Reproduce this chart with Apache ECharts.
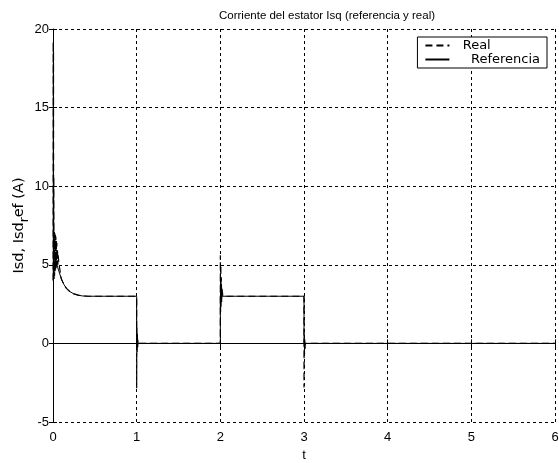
<!DOCTYPE html>
<html><head><meta charset="utf-8">
<script src="https://cdn.jsdelivr.net/npm/echarts@6/dist/echarts.min.js"></script>
<style>html,body{margin:0;padding:0;background:#fff}#c{width:559px;height:463px}</style>
</head><body><div id="c"></div>
<script>
// Time (s) and current (A)
var refT = [0, 0.04, 0.07, 0.1, 0.13, 0.16, 0.2, 0.25, 0.3, 0.35, 0.42, 1, 1, 2, 2, 3, 3, 6];
var refY = [5.3, 5.1, 4.6, 4.1, 3.75, 3.5, 3.3, 3.15, 3.07, 3.02, 3.0, 3.0, 0, 0, 3.0, 3.0, 0, 0];

var realT = [0, 0.002, 0.004, 0.006, 0.008, 0.01, 0.013, 0.016, 0.019, 0.022, 0.025, 0.028, 0.031, 0.034, 0.037, 0.04, 0.043, 0.046, 0.05, 0.054, 0.058, 0.062, 0.07, 0.1, 0.13, 0.16, 0.2, 0.25, 0.3, 0.35, 0.42,
  1.0, 1.0, 1.003, 1.006, 1.009, 1.012, 1.016, 1.02, 1.03,
  2.0, 2.0, 2.003, 2.006, 2.009, 2.012, 2.016, 2.02, 2.03,
  3.0, 3.0, 3.003, 3.006, 3.009, 3.012, 3.016, 3.02, 3.03, 6];
var realY = [4.0, 19.2, 4.2, 18.6, 4.1, 10.6, 4.1, 7.1, 4.3, 7.0, 4.5, 6.9, 4.7, 6.8, 4.8, 6.6, 4.9, 6.4, 5.0, 6.0, 5.0, 5.6, 5.1, 4.1, 3.75, 3.5, 3.3, 3.15, 3.07, 3.02, 3.0,
  3.0, -2.85, 1.0, -0.6, 0.6, -0.3, 0.2, 0, 0,
  0, 5.6, 2.0, 5.0, 2.3, 4.2, 2.6, 3.5, 3.0,
  3.0, -2.8, 0.4, -0.7, 0.3, -0.4, 0, 0, 0, 0];

var xTicks = [0, 1, 2, 3, 4, 5, 6];
var yTicks = [-5, 0, 5, 10, 15, 20];

function zip(a, b) { return a.map(function (v, i) { return [v, b[i]]; }); }

var font = 'Liberation Sans, Arial, sans-serif';
var wide = 'DejaVu Sans, sans-serif';
var chart = echarts.init(document.getElementById('c'));
chart.setOption({
  animation: false,
  backgroundColor: '#fff',
  title: {
    text: 'Corriente del estator Isq (referencia y real)',
    left: 322, top: 5, textAlign: 'center',
    textStyle: { fontFamily: font, fontSize: 11.5, fontWeight: 'normal', color: '#000' }
  },
  legend: {
    right: 12, top: 37, orient: 'vertical', align: 'left',
    backgroundColor: '#fff', borderColor: '#000', borderWidth: 1, borderRadius: 0,
    padding: [2, 7, 2, 7], itemGap: 1, itemWidth: 24, itemHeight: 13,
    itemStyle: { opacity: 0 },
    textStyle: { fontFamily: wide, fontSize: 13, color: '#000' },
    formatter: function (n) { return n === 'Real' ? '  Real' : '    Referencia'; },
    data: [{ name: 'Real' }, { name: 'Referencia' }]
  },
  grid: { left: 53, right: 4, top: 29, bottom: 41, containLabel: false, outerBoundsMode: 'none' },
  xAxis: [{
    type: 'value', min: xTicks[0], max: xTicks[xTicks.length - 1], interval: 1,
    name: 't', nameLocation: 'middle', nameGap: 27,
    nameTextStyle: { fontFamily: font, fontSize: 13, color: '#000' },
    axisLine: { show: true, lineStyle: { color: '#000', width: 1 } },
    axisTick: { show: true, inside: true, length: 4, lineStyle: { color: '#000' } },
    axisLabel: { fontFamily: font, fontSize: 13, color: '#000', margin: 9 },
    splitLine: { show: true, lineStyle: { color: '#000', type: [3, 3], width: 1 } }
  }, {
    type: 'value', position: 'top', min: 0, max: 6, interval: 1,
    axisLine: { show: false }, axisLabel: { show: false }, splitLine: { show: false },
    axisTick: { show: true, inside: true, length: 4, lineStyle: { color: '#000' } }
  }],
  yAxis: [{
    type: 'value', min: yTicks[0], max: yTicks[yTicks.length - 1], interval: 5,
    name: '{a|Isd, Isd}{b|r}{a|ef (A)}', nameLocation: 'middle', nameGap: 22, nameRotate: 90,
    nameMoveOverlap: false,
    nameTextStyle: {
      fontFamily: wide, fontSize: 14.5, color: '#000',
      rich: {
        a: { fontFamily: wide, fontSize: 14.5, color: '#000', lineHeight: 22, verticalAlign: 'top', padding: [3, 0, 0, 0] },
        b: { fontFamily: wide, fontSize: 12, color: '#000', lineHeight: 22, verticalAlign: 'bottom' }
      }
    },
    axisLine: { show: true, lineStyle: { color: '#000', width: 1 } },
    axisTick: { show: true, inside: true, length: 4, lineStyle: { color: '#000' } },
    axisLabel: { fontFamily: font, fontSize: 13, color: '#000', margin: 4 },
    splitLine: { show: true, lineStyle: { color: '#000', type: [3, 3], width: 1 } }
  }, {
    type: 'value', position: 'right', min: -5, max: 20, interval: 5,
    axisLine: { show: false }, axisLabel: { show: false }, splitLine: { show: false },
    axisTick: { show: true, inside: true, length: 4, lineStyle: { color: '#000' } }
  }],
  series: [{
    name: 'Referencia', type: 'line', data: zip(refT, refY), showSymbol: false, symbol: 'none',
    lineStyle: { color: '#000', width: 1 }, itemStyle: { color: '#000' }, z: 3
  }, {
    name: 'Real', type: 'line', data: zip(realT, realY), showSymbol: false, symbol: 'none',
    lineStyle: { color: '#000', width: 1.2, type: [7, 4] }, itemStyle: { color: '#000' }, z: 4
  }]
});
</script></body></html>
